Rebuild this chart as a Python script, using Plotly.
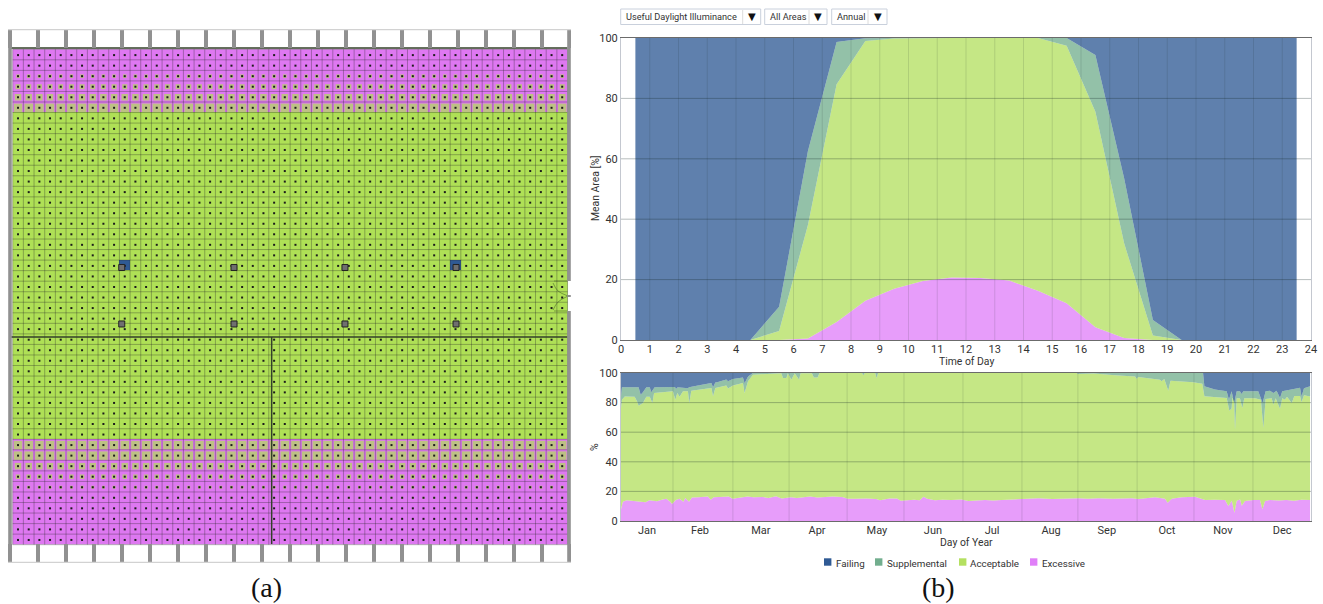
import plotly.graph_objects as go

W, H = 1323, 604
FONT = "Roboto"
TXT = "#333333"

# ---------- (b) hourly profile: cumulative upper boundary of each band, %
hours = [h + 0.5 for h in range(24)]
hour_ticks = list(range(25))
excess_top = [0, 0, 0, 0, 0, 0, 0.5, 6, 13, 17, 19.5, 20.7, 20.5, 19.7, 16.3, 12.2, 4.2, 0.7, 0, 0, 0, 0, 0, 0]
accept_top = [0, 0, 0, 0, 0, 3, 38, 84.7, 99, 99.8, 100, 100, 100, 100, 100, 97.4, 75.6, 32, 1.5, 0, 0, 0, 0, 0]
supp_top = [0, 0, 0, 0, 0, 11, 62.5, 98.7, 99.9, 100, 100, 100, 100, 100, 100, 100, 94.4, 53.6, 6.6, 0, 0, 0, 0, 0]
fail_top = [100] * 24
pct_ticks = [0, 20, 40, 60, 80, 100]

# ---------- (b) daily profile: day of year and cumulative upper boundary, %
month_names = ["Jan", "Feb", "Mar", "Apr", "May", "Jun", "Jul", "Aug", "Sep", "Oct", "Nov", "Dec"]
month_label_days = [13.8, 41.8, 74, 103.7, 135.4, 165, 196.3, 227.5, 257, 288.8, 318.4, 349.7]
month_grid_days = [27.5, 59.2, 88.9, 119.6, 149.7, 180.9, 212.1, 241.7, 273, 303.1, 334.3]

d_excess = [0, 1, 3, 6, 10, 13, 15, 19, 22, 24, 26, 27, 29, 31, 33, 34, 36, 37.5, 41, 44, 46, 47.5, 49, 52, 57, 59, 62,
            67, 70, 75, 78, 82, 85, 90, 93, 97, 100, 104, 108, 112, 117, 120, 124, 130, 135, 137, 142, 146, 148, 152,
            155, 158, 160, 162, 166, 170, 175, 180, 183.8, 192.6, 197, 201.4, 207, 212, 220.8, 228, 234.9, 242, 247,
            252.5, 260, 270.2, 273.7, 278, 282.5, 287.8, 289.2, 291.3, 296.6, 303.7, 309, 314, 319.5, 321.3, 323.1,
            324.5, 325.7, 327.5, 328.4, 330.1, 334.5, 338, 339.3, 340.7, 343.3, 348, 352, 356, 360, 364.5]
v_excess = [8, 13, 14, 13.5, 13, 12.6, 14, 13.4, 14.5, 15, 13, 11.5, 14.2, 15, 13, 15.5, 13, 15.8, 16, 16, 16.5, 14.3,
            16, 16.2, 16.6, 15, 15.6, 16.6, 16, 16.2, 15.6, 16.8, 15.2, 16, 15.6, 16, 16.5, 15.8, 16.2, 16.6, 16.2, 15,
            15, 15.2, 14.8, 14, 15.2, 15.2, 13.6, 14, 14.4, 14, 16.4, 15, 14, 14.4, 14.2, 14.6, 13.5, 14.2, 13.8, 14.2,
            14.5, 14.6, 15.3, 14.9, 15.3, 15.3, 15, 15.3, 15.1, 15.3, 14.8, 15.4, 16, 15, 12.4, 15, 16, 16.4, 14.2, 14.4,
            14.2, 10.1, 13.6, 5.6, 13.6, 14.6, 10.3, 13.5, 14.2, 14.2, 7.9, 13.5, 14.2, 13.8, 14.2, 13.7, 14.3, 14.2]

d_accept = [0, 0.5, 2, 7.2, 8.6, 9.3, 11.6, 13.4, 15.2, 16.6, 17.5, 27.5, 28.7, 29.8, 31, 32.8, 35.4, 36.1, 37.2, 47.8,
            48.7, 49.9, 55.7, 56.6, 59.2, 64.5, 65.4, 67.2, 69.8, 84.8, 85.7, 87.5, 88.3, 90.1, 91.9, 94.2, 95, 101,
            102, 104, 105, 127.5, 128.2, 129, 134.5, 135.2, 136, 241, 241.5, 250, 255, 261.3, 271.9, 272.8, 273.6,
            285.1, 286, 287.4, 289.5, 290.7, 302.7, 307.5, 308.6, 320.4, 321.8, 323, 323.4, 324.3, 324.8, 325.7, 327.4,
            328.7, 329.7, 335.4, 338.5, 339.8, 341, 344.2, 345.1, 346.3, 348.6, 349.8, 351.2, 352.3, 354.8, 356.2,
            359.2, 360, 361.3, 364.5]
v_accept = [76, 82, 84.2, 84, 80.5, 77.9, 79.7, 84, 84, 79.7, 86.5, 87.6, 82, 86.5, 84, 87.6, 87.6, 79.7, 88, 89.9,
            84.3, 89.9, 91.6, 89.6, 91.6, 93.2, 86.5, 94.4, 98.9, 99.8, 96.6, 96.6, 99.8, 95.5, 99.8, 95.5, 99.8, 99.8,
            97, 97, 100, 100, 98.4, 100, 100, 96.4, 100, 100, 99.3, 99.6, 99.2, 98.4, 97.7, 95.9, 97.3, 95.5, 94.4, 95.9,
            88, 94.8, 93.7, 92.8, 84.3, 83.1, 74.5, 76, 83, 83, 61.7, 83, 83, 76.4, 83, 83, 82, 62.9, 82.5, 83, 78.6, 83,
            75.9, 83, 82, 84, 79.7, 84.5, 84.5, 80.2, 85, 84.2]

d_supp = [0, 0.5, 9.3, 10.4, 11.6, 13.4, 15.2, 16, 17.8, 28.4, 29.3, 30, 35.4, 36, 40.7, 47.8, 48.7, 49.9, 51.3, 55.7,
          56.6, 59.2, 64.5, 65.4, 67.2, 69.8, 307.5, 307.9, 308.6, 314.2, 320.4, 321.6, 323, 324.4, 325.7, 327.4,
          328.3, 329.2, 337.1, 339.4, 341, 343.3, 345.1, 346.8, 348.6, 349.8, 359.2, 360, 361.3, 364.5]
v_supp = [84, 90.3, 90.3, 85.3, 87, 90.3, 90.3, 87, 90.3, 90.5, 89.3, 90.3, 89.7, 90.3, 91.6, 93.2, 90.3, 93.6, 94, 95.6,
          94.4, 96, 97, 93, 97.6, 100, 100, 100, 91, 88.8, 87.6, 82, 87.6, 79.7, 87.6, 87.6, 85.8, 87.6, 87.6, 79.7,
          87.6, 88, 86.5, 88, 83.1, 87.6, 90, 84.2, 89.7, 91]
d_fail = [0, 364.5]
v_fail = [100, 100]

# ---------- legend and selector texts
legend_names = ["Failing", "Supplemental", "Acceptable", "Excessive"]
legend_colors = ["#2f5a94", "#72ae8e", "#b4e060", "#e07ff8"]
selector_texts = ["Useful Daylight Illuminance", "All Areas", "Annual"]

# ---------- (a) floor plan: class of each row, top to bottom (0 acceptable, 1 excessive)
n_cols = 52
row_class = [1] * 6 + [0] * 31 + [1] * 10
# size in px of the green square that surrounds the sensor in each row
row_inner = [0, 0, 3.5, 5, 6.5, 8.5] + [0] * 31 + [8.5, 8.5, 6.5, 4.5, 3, 2, 0, 0, 0, 0]
blue_cells = [(10, 20), (41, 20)]          # (column, row)
column_x = [9.72, 20.24, 30.64, 41.05]     # structural columns, in cell units
column_y = [20.2, 25.56]
n_mullions = 21

GREEN, MAGENTA, BLUE = "#afe056", "#de78f1", "#2f5a94"
FILLS = ["rgba(47,90,148,0.77)", "rgba(114,174,142,0.77)", "rgba(180,224,96,0.77)", "rgba(224,127,248,0.77)"]

def dx(a, b):
    return [a / W, b / W]

def dy(top, bottom):
    return [1 - bottom / H, 1 - top / H]

# pixel <-> cell units of the plan
CW, CH, X0, Y0 = 10.67, 10.54, 12.7, 49.3
cx = lambda p: None if p is None else (p - X0) / CW - 0.5
cy = lambda p: None if p is None else (p - Y0) / CH - 0.5

fig = go.Figure()

# plan: cells
z = [[c] * n_cols for c in row_class]
for col, row in blue_cells:
    z[row][col] = 2
fig.add_trace(go.Heatmap(z=z, x=list(range(n_cols)), y=list(range(len(z))), zmin=0, zmax=2, showscale=False,
                         hoverinfo="skip", xaxis="x", yaxis="y",
                         colorscale=[[0, GREEN], [0.33, GREEN], [0.33, MAGENTA], [0.66, MAGENTA], [0.66, BLUE], [1, BLUE]]))
# plan: green inner squares
ix, iy, isz = [], [], []
for r, s in enumerate(row_inner):
    if s:
        for c in range(n_cols):
            ix.append(c); iy.append(r + 0.05); isz.append(s)
fig.add_trace(go.Scatter(x=ix, y=iy, mode="markers", marker=dict(symbol="square", size=isz, color=GREEN, line_width=0),
                         xaxis="x", yaxis="y", hoverinfo="skip"))
# plan: grid lines
gx, gy = [], []
for c in range(n_cols + 1):
    gx += [c - 0.5, c - 0.5, None]; gy += [-0.5, len(z) - 0.5, None]
for r in range(len(z) + 1):
    gx += [-0.5, n_cols - 0.5, None]; gy += [r - 0.5, r - 0.5, None]
fig.add_trace(go.Scatter(x=gx, y=gy, mode="lines", line=dict(color="rgba(40,40,40,0.33)", width=1),
                         xaxis="x", yaxis="y", hoverinfo="skip"))
# plan: sensors
sx = [c for r in range(len(z)) for c in range(n_cols)]
sy = [r + 0.05 for r in range(len(z)) for c in range(n_cols)]
fig.add_trace(go.Scatter(x=sx, y=sy, mode="markers", marker=dict(symbol="square", size=2, color="#1c1c1c", line_width=0),
                         xaxis="x", yaxis="y", hoverinfo="skip"))
# plan: walls
wx = [-0.66, 51.5, None, -0.66, 51.5, None, 23.77, 23.77]
wy = [-0.62, -0.62, None, 26.8, 26.8, None, 26.8, cy(544)]
fig.add_trace(go.Scatter(x=wx, y=wy, mode="lines", line=dict(color="#33402a", width=1.5),
                         xaxis="x", yaxis="y", hoverinfo="skip"))
# plan: door on the right
fig.add_trace(go.Scatter(x=[cx(v) for v in (567, 554, None, 567, 554, None, 553, 558, 568, None, 568, 558, 553)],
                         y=[cy(v) for v in (281, 281, None, 311, 311, None, 283, 291, 296, None, 296, 302, 310)],
                         mode="lines", line=dict(color="rgba(60,90,30,0.5)", width=1, shape="spline"),
                         xaxis="x", yaxis="y", hoverinfo="skip"))
# plan: columns
px_, py_ = [], []
for yy in column_y:
    for xx in column_x:
        px_.append(xx); py_.append(yy)
fig.add_trace(go.Scatter(x=px_, y=py_, mode="markers",
                         marker=dict(symbol="square", size=6, color="#6f6f6f", line=dict(color="#222222", width=1)),
                         xaxis="x", yaxis="y", hoverinfo="skip"))
# plan: window frame
mx, my = [], []
for i in range(n_mullions):
    c = cx(10 + 28 * i)
    mx += [c, c, None, c, c, None]; my += [cy(30), cy(48), None, cy(544), cy(562), None]
fig.add_trace(go.Scatter(x=mx, y=my, mode="lines", line=dict(color="#919191", width=4),
                         xaxis="x", yaxis="y", hoverinfo="skip"))
fig.add_trace(go.Scatter(x=[cx(10), cx(10), None, cx(569), cx(569), None, cx(569), cx(569), None, cx(569), cx(569)],
                         y=[cy(29), cy(563), None, cy(29), cy(281), None, cy(295), cy(297), None, cy(311), cy(563)],
                         mode="lines", line=dict(color="#919191", width=3.6), xaxis="x", yaxis="y", hoverinfo="skip"))
fig.add_trace(go.Scatter(x=[cx(8), cx(571), None, cx(8), cx(571)], y=[cy(29.5), cy(29.5), None, cy(562.5), cy(562.5)],
                         mode="lines", line=dict(color="#d2d2d2", width=1.5), xaxis="x", yaxis="y", hoverinfo="skip"))

# hourly chart
prev = None
for name, ys, col in [("Excessive", excess_top, FILLS[3]), ("Acceptable", accept_top, FILLS[2]),
                      ("Supplemental", supp_top, FILLS[1]), ("Failing", fail_top, FILLS[0])]:
    fig.add_trace(go.Scatter(x=hours, y=ys, name=name, mode="lines", line=dict(width=0), fillcolor=col,
                             fill="tozeroy" if prev is None else "tonexty", xaxis="x2", yaxis="y2", showlegend=False))
    prev = name

# daily chart
first = True
for name, xs, ys, col in [("Excessive", d_excess, v_excess, FILLS[3]), ("Acceptable", d_accept, v_accept, FILLS[2]),
                          ("Supplemental", d_supp, v_supp, FILLS[1]), ("Failing", d_fail, v_fail, FILLS[0])]:
    fig.add_trace(go.Scatter(x=xs, y=ys, name=name, mode="lines", line=dict(width=0), fillcolor=col,
                             fill="tozeroy" if first else "tonexty", xaxis="x3", yaxis="y3", showlegend=False))
    first = False

shapes, annos = [], []
HL = "rgba(20,40,40,0.3)"
VL = "rgba(20,40,40,0.13)"
for p in pct_ticks[1:-1]:
    shapes.append(dict(type="line", xref="x2", yref="y2", x0=0, x1=24, y0=p, y1=p, line=dict(color=HL, width=1), layer="above"))
    shapes.append(dict(type="line", xref="x3", yref="y3", x0=0, x1=365, y0=p, y1=p, line=dict(color=HL, width=1), layer="above"))
for h in hour_ticks[1:-1]:
    if h <= 23:
        shapes.append(dict(type="line", xref="x2", yref="y2", x0=h, x1=h, y0=0, y1=100, line=dict(color=VL, width=1), layer="above"))
for d in month_grid_days:
    shapes.append(dict(type="line", xref="x3", yref="y3", x0=d, x1=d, y0=0, y1=100, line=dict(color=VL, width=1), layer="above"))

def text(x, y, s, size=10.5, anchor="left", font=FONT, color=TXT, angle=0):
    annos.append(dict(x=x / W, y=1 - y / H, xref="paper", yref="paper", text=s, showarrow=False, xanchor=anchor,
                      yanchor="middle", textangle=angle, xshift=-1 if anchor == "left" else 0, borderpad=0,
                      font=dict(family=font, size=size, color=color)))

def box(x0, y0, x1, y1, fill=None, line=None, width=1):
    shapes.append(dict(type="rect", xref="paper", yref="paper", x0=x0 / W, x1=x1 / W, y0=1 - y1 / H, y1=1 - y0 / H,
                       fillcolor=fill or "rgba(0,0,0,0)", line=dict(color=line or "rgba(0,0,0,0)", width=width)))

# selectors
boxes = [(620.7, 742.7, 760.7), (764.7, 809, 827), (831.7, 868, 887)]
for (a, sep, b), s in zip(boxes, selector_texts):
    box(a, 9, b, 24.5, fill="#ffffff", line="#c9d0dc", width=1)
    shapes.append(dict(type="line", xref="paper", yref="paper", x0=sep / W, x1=sep / W, y0=1 - 24 / H, y1=1 - 10 / H,
                       line=dict(color="#dcdcdc", width=1)))
    text(a + 5, 16.2, s, size=9.2)
    text((sep + b) / 2, 16, "▼", size=10, anchor="center", color="#111111", font="DejaVu Sans")

# legend
for (sw, tx), n, c in zip([(824, 835.7), (875, 886.7), (959, 970), (1030, 1041.7)], legend_names, legend_colors):
    box(sw, 558.3, sw + 7.4, 565.7, fill=c)
    text(tx, 563, n, size=9.8)

# axis titles and captions
text(595, 188, "Mean Area [%]", size=10.4, anchor="center", angle=-90)
text(966, 361.5, "Time of Day", size=10.4, anchor="center")
text(595, 447, "%", size=10.4, anchor="center", angle=-90)
text(966, 542.5, "Day of Year", size=10.4, anchor="center")
text(266, 587, "(a)", size=28, anchor="center", font="Liberation Serif", color="#111111")
text(938, 587, "(b)", size=28, anchor="center", font="Liberation Serif", color="#111111")

tick_font = dict(family=FONT, size=11, color=TXT)
common_x = dict(showgrid=False, zeroline=False, ticks="", showline=True, linecolor="#6b6b6b", linewidth=1, mirror=True,
                tickfont=tick_font, automargin=False, ticklabelstandoff=-1)
common_y = dict(showgrid=False, zeroline=False, ticks="", showline=True, linecolor="#c4c8d0", linewidth=1, mirror=True,
                tickfont=tick_font, tickvals=pct_ticks, range=[0, 100], automargin=False)

fig.update_layout(
    width=W, height=H, margin=dict(l=0, r=0, t=0, b=0, autoexpand=False), paper_bgcolor="#ffffff", plot_bgcolor="#ffffff",
    showlegend=False, shapes=shapes, annotations=annos,
    xaxis=dict(domain=dx(8, 571), range=[cx(8), cx(571)], visible=False, automargin=False),
    yaxis=dict(domain=dy(29, 563), range=[cy(563), cy(29)], visible=False, automargin=False),
    xaxis2=dict(domain=dx(621, 1311), range=[0, 24], tickvals=hour_ticks, anchor="y2", **common_x),
    yaxis2=dict(domain=dy(38, 340), anchor="x2", **common_y),
    xaxis3=dict(domain=dx(621, 1311), range=[0, 365], tickvals=month_label_days, ticktext=month_names, anchor="y3", **common_x),
    yaxis3=dict(domain=dy(373, 521), anchor="x3", **common_y),
)

fig.write_html("out.html", config={"displayModeBar": False},
               post_script="document.body.style.margin='0';document.body.style.overflow='hidden';")
